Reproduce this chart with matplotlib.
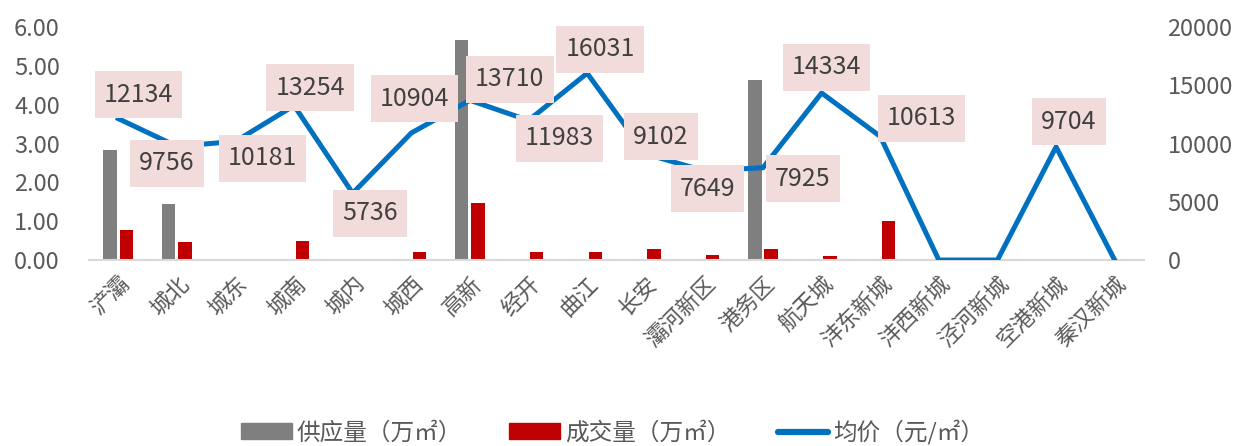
import numpy as np
import matplotlib
matplotlib.use("Agg")
import matplotlib.pyplot as plt
from matplotlib.patches import Patch
from matplotlib.lines import Line2D
from matplotlib.path import Path

plt.rcParams['font.family'] = ['Noto Sans CJK SC', 'DejaVu Sans']

# data
districts = ['浐灞', '城北', '城东', '城南', '城内', '城西', '高新', '经开', '曲江', '长安',
             '灞河新区', '港务区', '航天城', '沣东新城', '沣西新城', '泾河新城', '空港新城', '秦汉新城']
supply = [2.83, 1.44, 0, 0, 0, 0, 5.66, 0, 0, 0, 0, 4.63, 0, 0, 0, 0, 0, 0]
deals = [0.77, 0.46, 0.03, 0.48, 0, 0.20, 1.47, 0.20, 0.20, 0.28, 0.13, 0.28, 0.10, 1.00, 0, 0, 0.03, 0]
price = [12134, 9756, 10181, 13254, 5736, 10904, 13710, 11983, 16031, 9102,
         7649, 7925, 14334, 10613, 0, 0, 9704, 0]

# label box offsets from the point, in pixels (x right, y up)
label_offsets = [(20, 24), (-10, -17), (27, -17), (16, 18), (17, -20), (3, 34), (40, 21), (31, -18),
                 (13, 24), (15, 17), (3, -18), (40, -11), (5, 26), (41, 18), (0, 0), (0, 0), (13, 25), (0, 0)]

GRAY = '#7F7F7F'
RED = '#C00000'
BLUE = '#0070C0'
TXT = '#595959'


def label_box(x0, y0, width, height, mutation_size):
    # more vertical padding than horizontal, like the excel data labels
    px = 0.36 * mutation_size
    py = 0.42 * mutation_size
    return Path([(x0 - px, y0 - py), (x0 + width + px, y0 - py),
                 (x0 + width + px, y0 + height + py), (x0 - px, y0 + height + py),
                 (x0 - px, y0 - py)], closed=True)


fig = plt.figure(figsize=(12.39, 4.46), dpi=100)
ax = fig.add_axes([0.0718, 0.417, 0.8515, 0.5225])
ax2 = ax.twinx()

x = np.arange(len(districts))
w = 0.23
ax.bar(x - 0.14, supply, width=w, color=GRAY, zorder=2)
ax.bar(x + 0.14, deals, width=w, color=RED, zorder=2)

ax2.plot(x, price, color=BLUE, lw=3.6, solid_joinstyle='miter', zorder=3)

for i, v in enumerate(price):
    if v == 0:
        continue
    dx, dy = label_offsets[i]
    ax2.annotate(str(v), (i, v), xytext=(dx, dy), textcoords='offset pixels',
                 ha='center', va='center', fontsize=18, color='#404040',
                 bbox=dict(boxstyle=label_box, fc='#F2DCDB', ec='none'), zorder=5)

ax.set_xlim(-0.5, len(districts) - 0.5)
ax.set_ylim(0, 6)
ax.set_yticks(np.arange(0, 6.01, 1))
ax.set_yticklabels([f'{t:.2f}' for t in np.arange(0, 6.01, 1)])
ax2.set_ylim(0, 20000)
ax2.set_yticks(range(0, 20001, 5000))

ax.set_xticks(x)
ax.set_xticklabels(districts, rotation=45, ha='right', rotation_mode='anchor', fontsize=16, color=TXT)
ax.tick_params(axis='x', length=0, pad=9)
ax.tick_params(axis='y', length=0, pad=21, labelsize=17, labelcolor=TXT)
ax2.tick_params(axis='y', length=0, pad=17, labelsize=17, labelcolor=TXT)

for a in (ax, ax2):
    for s in ['top', 'left', 'right']:
        a.spines[s].set_visible(False)
    a.spines['bottom'].set_color('#D9D9D9')
    a.spines['bottom'].set_linewidth(1.5)
ax2.spines['bottom'].set_visible(False)

handles = [Patch(color=GRAY, label='供应量（万㎡）'),
           Patch(color=RED, label='成交量（万㎡）'),
           Line2D([], [], color=BLUE, lw=4.5, solid_capstyle='round', label='均价（元/㎡）')]
leg = fig.legend(handles=handles, loc='center', bbox_to_anchor=(0.4945, 0.031), ncol=3,
                 frameon=False, fontsize=17, handlelength=2.15, handleheight=0.65,
                 handletextpad=0.2, columnspacing=2.0)
for t in leg.get_texts():
    t.set_color(TXT)

fig.savefig('out.png', dpi=100)
